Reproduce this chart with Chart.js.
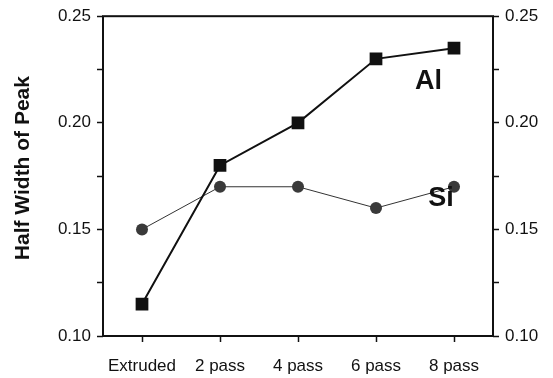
<!DOCTYPE html>
<html>
<head>
<meta charset="utf-8">
<script src="https://cdn.jsdelivr.net/npm/chart.js@4"></script>
<style>
  html, body { margin: 0; padding: 0; background: #fff; }
  #wrap { width: 553px; height: 378px; }
</style>
</head>
<body>
<div id="wrap"><canvas id="graphCanvas" width="553" height="378"></canvas></div>
<script>
// data
const categories = ['Extruded', '2 pass', '4 pass', '6 pass', '8 pass'];
const alValues = [0.115, 0.18, 0.20, 0.23, 0.235];
const siValues = [0.15, 0.17, 0.17, 0.16, 0.17];
const yTicks = [0.10, 0.15, 0.20, 0.25];

// where the series names sit, in data units (category index, value)
const seriesLabels = [
    { text: 'Al', x: 3.50, y: 0.2194 },
    { text: 'Si', x: 3.67, y: 0.1647 }
];

const FONT = '"Liberation Sans", Arial, sans-serif';

// frame around the plot, the y title and the two series names
const framePlugin = {
    id: 'frame',
    afterDraw(chart) {
        const { ctx, chartArea: a, scales } = chart;
        ctx.save();
        ctx.strokeStyle = '#111';
        ctx.lineWidth = 2;
        ctx.strokeRect(a.left, a.top, a.right - a.left, a.bottom - a.top);
        ctx.fillStyle = '#111';

        // y title sits a little above the middle of the plot in the original
        ctx.save();
        ctx.font = 'bold 21px ' + FONT;
        ctx.textAlign = 'center';
        ctx.textBaseline = 'middle';
        ctx.translate(23, (a.top + a.bottom) / 2 - 8);
        ctx.rotate(-Math.PI / 2);
        ctx.fillText('Half Width of Peak', 0, 0);
        ctx.restore();

        ctx.font = 'bold 27px ' + FONT;
        ctx.textAlign = 'left';
        ctx.textBaseline = 'middle';
        seriesLabels.forEach(l => {
            ctx.fillText(l.text, scales.x.getPixelForValue(l.x), scales.y.getPixelForValue(l.y));
        });
        ctx.restore();
    }
};

function yAxis(position, width) {
    return {
        type: 'linear',
        position: position,
        min: 0.10,
        max: 0.25,
        afterBuildTicks: axis => {
            axis.ticks = [];
            for (let v = 0.10; v <= 0.2501; v += 0.025) axis.ticks.push({ value: Math.round(v * 1000) / 1000 });
        },
        afterFit: axis => { axis.width = width; },
        border: { display: false },
        grid: {
            drawOnChartArea: false,
            drawTicks: true,
            tickLength: 6,
            tickColor: '#111',
            tickWidth: 1.5
        },
        ticks: {
            color: '#111',
            padding: 6,
            font: { family: FONT, size: 17 },
            callback: v => yTicks.some(t => Math.abs(t - v) < 1e-6) ? v.toFixed(2) : ''
        }
    };
}

function initializeChart() {
    const ctx = document.getElementById('graphCanvas').getContext('2d');
    new Chart(ctx, {
        type: 'line',
        data: {
            labels: categories,
            datasets: [
                {
                    label: 'Al',
                    data: alValues,
                    borderColor: '#111',
                    backgroundColor: '#111',
                    borderWidth: 2,
                    pointStyle: 'rect',
                    pointRadius: 9,
                    pointBorderWidth: 0,
                    fill: false,
                    tension: 0
                },
                {
                    label: 'Si',
                    data: siValues,
                    borderColor: '#333',
                    backgroundColor: '#3a3a3a',
                    borderWidth: 1,
                    pointStyle: 'circle',
                    pointRadius: 6,
                    pointBorderWidth: 0,
                    fill: false,
                    tension: 0
                }
            ]
        },
        options: {
            responsive: false,
            animation: false,
            layout: { padding: { top: 15, left: 0, right: 0, bottom: 0 } },
            plugins: {
                legend: { display: false },
                tooltip: { enabled: false }
            },
            scales: {
                x: {
                    type: 'category',
                    offset: true,
                    afterFit: axis => { axis.height = 42; },
                    border: { display: false },
                    grid: {
                        drawOnChartArea: false,
                        drawTicks: true,
                        offset: false,
                        tickLength: 6,
                        tickColor: '#111',
                        tickWidth: 1.5
                    },
                    ticks: {
                        color: '#111',
                        padding: 14,
                        maxRotation: 0,
                        autoSkip: false,
                        font: { family: FONT, size: 17 }
                    }
                },
                y: yAxis('left', 103),
                y2: yAxis('right', 60)
            }
        },
        plugins: [framePlugin]
    });
}

window.onload = initializeChart;
</script>
</body>
</html>
